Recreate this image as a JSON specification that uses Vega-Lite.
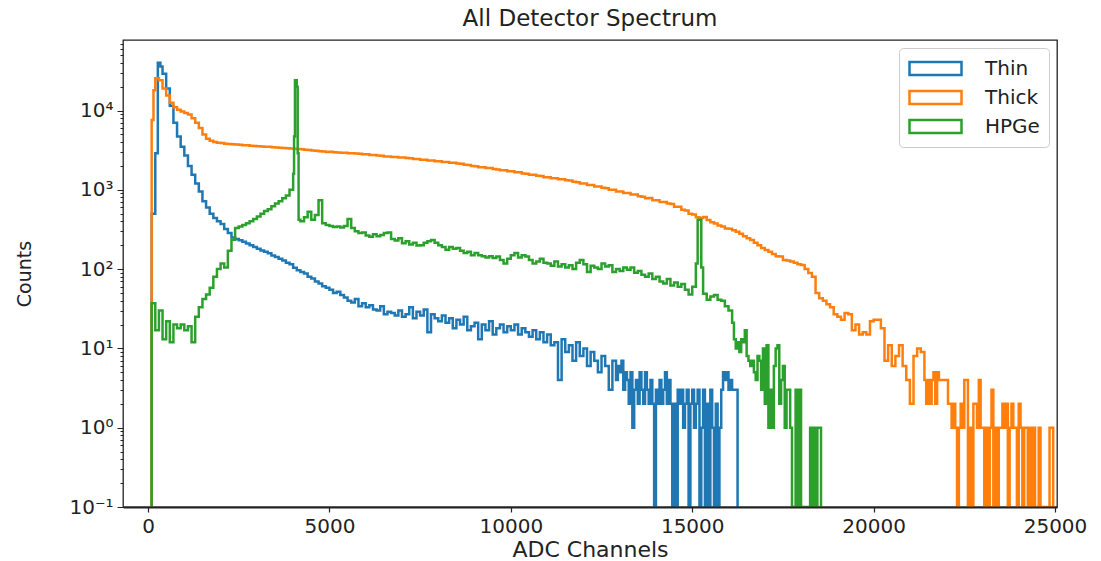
{
"$schema":"https://vega.github.io/schema/vega-lite/v6.json",
"width":934,"height":467,
"autosize":"none",
"padding":{"left":123,"top":40,"right":44,"bottom":54},
"title":{"text":"All Detector Spectrum","fontSize":23,"font":"DejaVu Sans","fontWeight":"normal","color":"#222222","offset":3},
"config":{"view":{"stroke":"#222222","strokeWidth":1.3},"font":"DejaVu Sans"},
"data":{"values":[
{"x":95,"Thin":0,"Thick":0,"HPGe":0},
{"x":100,"Thin":500,"Thick":7600,"HPGe":37},
{"x":150,"Thick":18000},
{"x":200,"Thin":2900,"Thick":25500,"HPGe":17},
{"x":270,"Thin":40000},
{"x":300,"Thick":24000,"HPGe":30},
{"x":340,"Thin":36000},
{"x":400,"Thin":29000,"Thick":19000,"HPGe":13},
{"x":500,"Thin":19000,"Thick":15500,"HPGe":22},
{"x":600,"Thin":11500,"Thick":12500,"HPGe":12},
{"x":700,"Thin":7000,"Thick":11000,"HPGe":20},
{"x":800,"Thin":4700,"Thick":10200,"HPGe":18},
{"x":900,"Thin":3500,"Thick":9700,"HPGe":20},
{"x":1000,"Thin":2700,"Thick":9300,"HPGe":17},
{"x":1100,"Thin":2000,"Thick":8900,"HPGe":19},
{"x":1200,"Thin":1550,"Thick":8000,"HPGe":12},
{"x":1300,"Thin":1200,"Thick":7000,"HPGe":25},
{"x":1400,"Thin":950,"Thick":6000,"HPGe":33},
{"x":1500,"Thin":720,"Thick":5000,"HPGe":42},
{"x":1600,"Thin":600,"Thick":4400,"HPGe":48},
{"x":1700,"Thin":500,"Thick":4150,"HPGe":58},
{"x":1800,"Thin":440,"Thick":4000,"HPGe":80},
{"x":1900,"Thin":400,"Thick":3920,"HPGe":100},
{"x":2000,"Thin":370,"Thick":3880,"HPGe":118},
{"x":2100,"Thin":320,"Thick":3820,"HPGe":105},
{"x":2200,"Thin":285,"Thick":3790,"HPGe":170},
{"x":2300,"Thin":250,"Thick":3760,"HPGe":235},
{"x":2400,"Thin":240,"Thick":3720,"HPGe":330},
{"x":2500,"Thin":232,"Thick":3700,"HPGe":345},
{"x":2600,"Thin":222,"Thick":3660,"HPGe":360},
{"x":2700,"Thin":210,"Thick":3640,"HPGe":380},
{"x":2800,"Thin":200,"Thick":3590,"HPGe":400},
{"x":2900,"Thin":190,"Thick":3570,"HPGe":430},
{"x":3000,"Thin":180,"Thick":3550,"HPGe":460},
{"x":3100,"Thin":172,"Thick":3530,"HPGe":500},
{"x":3200,"Thin":165,"Thick":3490,"HPGe":540},
{"x":3300,"Thin":158,"Thick":3480,"HPGe":570},
{"x":3400,"Thin":148,"Thick":3450,"HPGe":620},
{"x":3500,"Thin":142,"Thick":3420,"HPGe":670},
{"x":3600,"Thin":135,"Thick":3400,"HPGe":720},
{"x":3700,"Thin":128,"Thick":3360,"HPGe":780},
{"x":3800,"Thin":120,"Thick":3350,"HPGe":850},
{"x":3900,"Thin":115,"Thick":3310,"HPGe":1000},
{"x":4000,"Thin":104,"Thick":3290,"HPGe":1600},
{"x":4025,"HPGe":4700},
{"x":4050,"HPGe":24000},
{"x":4100,"Thin":97,"Thick":3260,"HPGe":20000},
{"x":4125,"HPGe":2900},
{"x":4150,"HPGe":420},
{"x":4200,"Thin":92,"Thick":3240,"HPGe":400},
{"x":4300,"Thin":88,"Thick":3190,"HPGe":450},
{"x":4400,"Thin":80,"Thick":3180,"HPGe":530},
{"x":4500,"Thin":76,"Thick":3130,"HPGe":420},
{"x":4600,"Thin":70,"Thick":3110,"HPGe":480},
{"x":4700,"Thin":66,"Thick":3060,"HPGe":740},
{"x":4800,"Thin":61,"Thick":3050,"HPGe":380},
{"x":4900,"Thin":58,"Thick":3000,"HPGe":360},
{"x":5000,"Thin":55,"Thick":3010,"HPGe":350},
{"x":5100,"Thin":50,"Thick":2970,"HPGe":340},
{"x":5200,"Thin":52,"Thick":2960,"HPGe":345},
{"x":5300,"Thin":47,"Thick":2930,"HPGe":335},
{"x":5400,"Thin":44,"Thick":2940,"HPGe":350},
{"x":5500,"Thin":40,"Thick":2890,"HPGe":430},
{"x":5600,"Thin":38,"Thick":2900,"HPGe":330},
{"x":5700,"Thin":42,"Thick":2870,"HPGe":300},
{"x":5800,"Thin":34,"Thick":2850,"HPGe":285},
{"x":5900,"Thin":37,"Thick":2810,"HPGe":290},
{"x":6000,"Thin":33,"Thick":2800,"HPGe":265},
{"x":6100,"Thin":35,"Thick":2750,"HPGe":255},
{"x":6200,"Thin":31,"Thick":2750,"HPGe":275},
{"x":6300,"Thin":30,"Thick":2700,"HPGe":260},
{"x":6400,"Thin":34,"Thick":2690,"HPGe":270},
{"x":6500,"Thin":27,"Thick":2640,"HPGe":285},
{"x":6600,"Thin":29,"Thick":2640,"HPGe":290},
{"x":6700,"Thin":28,"Thick":2600,"HPGe":240},
{"x":6800,"Thin":26,"Thick":2600,"HPGe":230},
{"x":6900,"Thin":30,"Thick":2550,"HPGe":245},
{"x":7000,"Thin":25,"Thick":2550,"HPGe":212},
{"x":7100,"Thin":27,"Thick":2510,"HPGe":225},
{"x":7200,"Thin":33,"Thick":2500,"HPGe":205},
{"x":7300,"Thin":24,"Thick":2450,"HPGe":215},
{"x":7400,"Thin":29,"Thick":2440,"HPGe":198},
{"x":7500,"Thin":26,"Thick":2390,"HPGe":200},
{"x":7600,"Thin":31,"Thick":2400,"HPGe":215},
{"x":7700,"Thin":16,"Thick":2350,"HPGe":225},
{"x":7800,"Thin":27,"Thick":2340,"HPGe":233},
{"x":7900,"Thin":24,"Thick":2290,"HPGe":215},
{"x":8000,"Thin":22,"Thick":2290,"HPGe":200},
{"x":8100,"Thin":26,"Thick":2240,"HPGe":190},
{"x":8200,"Thin":21,"Thick":2240,"HPGe":175},
{"x":8300,"Thin":24,"Thick":2190,"HPGe":190},
{"x":8400,"Thin":18,"Thick":2190,"HPGe":180},
{"x":8500,"Thin":23,"Thick":2150,"HPGe":185},
{"x":8600,"Thin":20,"Thick":2130,"HPGe":170},
{"x":8700,"Thin":25,"Thick":2070,"HPGe":160},
{"x":8800,"Thin":17,"Thick":2050,"HPGe":165},
{"x":8900,"Thin":19,"Thick":1990,"HPGe":150},
{"x":9000,"Thin":21,"Thick":1980,"HPGe":160},
{"x":9100,"Thin":13,"Thick":1930,"HPGe":150},
{"x":9200,"Thin":20,"Thick":1920,"HPGe":145},
{"x":9300,"Thin":17,"Thick":1880,"HPGe":140},
{"x":9400,"Thin":22,"Thick":1880,"HPGe":145},
{"x":9500,"Thin":15,"Thick":1830,"HPGe":138},
{"x":9600,"Thin":18,"Thick":1810,"HPGe":144},
{"x":9700,"Thin":20,"Thick":1770,"HPGe":130},
{"x":9800,"Thin":16,"Thick":1760,"HPGe":118},
{"x":9900,"Thin":19,"Thick":1720,"HPGe":135},
{"x":10000,"Thin":17,"Thick":1710,"HPGe":150},
{"x":10100,"Thin":20,"Thick":1670,"HPGe":160},
{"x":10200,"Thin":15,"Thick":1660,"HPGe":140},
{"x":10300,"Thin":18,"Thick":1610,"HPGe":150},
{"x":10400,"Thin":16,"Thick":1600,"HPGe":144},
{"x":10500,"Thin":14,"Thick":1550,"HPGe":130},
{"x":10600,"Thin":17,"Thick":1550,"HPGe":118},
{"x":10700,"Thin":13,"Thick":1500,"HPGe":125},
{"x":10800,"Thin":16,"Thick":1490,"HPGe":135},
{"x":10900,"Thin":12,"Thick":1440,"HPGe":120},
{"x":11000,"Thin":15,"Thick":1440,"HPGe":118},
{"x":11100,"Thin":11,"Thick":1400,"HPGe":110},
{"x":11200,"Thin":12,"Thick":1400,"HPGe":125},
{"x":11300,"Thin":4,"Thick":1360,"HPGe":108},
{"x":11400,"Thin":13,"Thick":1360,"HPGe":115},
{"x":11500,"Thin":9,"Thick":1320,"HPGe":105},
{"x":11600,"Thin":11,"Thick":1310,"HPGe":112},
{"x":11700,"Thin":7,"Thick":1260,"HPGe":100},
{"x":11800,"Thin":12,"Thick":1250,"HPGe":120},
{"x":11900,"Thin":8,"Thick":1200,"HPGe":130},
{"x":12000,"Thin":10,"Thick":1200,"HPGe":115},
{"x":12100,"Thin":6,"Thick":1150,"HPGe":92},
{"x":12200,"Thin":9,"Thick":1150,"HPGe":110},
{"x":12300,"Thin":7,"Thick":1100,"HPGe":105},
{"x":12400,"Thin":5,"Thick":1100,"HPGe":100},
{"x":12500,"Thin":8,"Thick":1060,"HPGe":118},
{"x":12600,"Thin":6,"Thick":1050,"HPGe":108},
{"x":12700,"Thin":3,"Thick":1000,"HPGe":112},
{"x":12800,"Thin":7,"Thick":1000,"HPGe":92},
{"x":12900,"Thin":4,"Thick":950,"HPGe":100},
{"x":12950,"Thin":6},
{"x":13000,"Thin":5,"Thick":950,"HPGe":95},
{"x":13050,"Thin":7},
{"x":13100,"Thin":3,"Thick":910,"HPGe":105},
{"x":13150,"Thin":5},
{"x":13200,"Thin":4,"Thick":910,"HPGe":98},
{"x":13250,"Thin":2},
{"x":13300,"Thin":5,"Thick":870,"HPGe":105},
{"x":13350,"Thin":1},
{"x":13400,"Thin":3,"Thick":870,"HPGe":90},
{"x":13450,"Thin":4},
{"x":13500,"Thin":2,"Thick":830,"HPGe":95},
{"x":13550,"Thin":5},
{"x":13600,"Thin":3,"Thick":820,"HPGe":85},
{"x":13650,"Thin":2},
{"x":13700,"Thin":5,"Thick":780,"HPGe":80},
{"x":13750,"Thin":3},
{"x":13800,"Thin":2,"Thick":790,"HPGe":88},
{"x":13850,"Thin":4},
{"x":13900,"Thin":2,"Thick":740,"HPGe":75},
{"x":13950,"Thin":0},
{"x":14000,"Thin":3,"Thick":740,"HPGe":80},
{"x":14050,"Thin":2},
{"x":14100,"Thin":4,"Thick":700,"HPGe":70},
{"x":14150,"Thin":2},
{"x":14200,"Thin":3,"Thick":700,"HPGe":66},
{"x":14250,"Thin":5},
{"x":14300,"Thin":2,"Thick":670,"HPGe":75},
{"x":14350,"Thin":4},
{"x":14400,"Thin":2,"Thick":660,"HPGe":62},
{"x":14450,"Thin":0},
{"x":14500,"Thin":2,"Thick":610,"HPGe":68},
{"x":14550,"Thin":0},
{"x":14600,"Thin":3,"Thick":610,"HPGe":60},
{"x":14650,"Thin":2},
{"x":14700,"Thin":3,"Thick":560,"HPGe":65},
{"x":14750,"Thin":1},
{"x":14800,"Thin":2,"Thick":550,"HPGe":55},
{"x":14850,"Thin":3},
{"x":14900,"Thin":0,"Thick":500,"HPGe":48},
{"x":14950,"Thin":2},
{"x":15000,"Thin":3,"Thick":490,"HPGe":60},
{"x":15050,"Thin":1},
{"x":15100,"Thin":2,"Thick":450,"HPGe":118},
{"x":15150,"Thin":3,"HPGe":420},
{"x":15200,"Thin":0,"Thick":440},
{"x":15250,"Thin":1,"HPGe":105},
{"x":15300,"Thin":3,"Thick":455,"HPGe":49},
{"x":15350,"Thin":0},
{"x":15400,"Thin":2,"Thick":415,"HPGe":41},
{"x":15450,"Thin":0},
{"x":15500,"Thin":3,"Thick":390,"HPGe":45},
{"x":15550,"Thin":1},
{"x":15600,"Thin":0,"Thick":375,"HPGe":47},
{"x":15650,"Thin":2},
{"x":15700,"Thin":0,"Thick":355,"HPGe":41},
{"x":15750,"Thin":1},
{"x":15800,"Thin":3,"Thick":345,"HPGe":40},
{"x":15850,"Thin":5},
{"x":15900,"Thin":4,"Thick":325,"HPGe":34},
{"x":15950,"Thin":5},
{"x":16000,"Thin":3,"Thick":322,"HPGe":30},
{"x":16050,"Thin":4},
{"x":16100,"Thin":3,"Thick":310,"HPGe":21},
{"x":16150,"Thin":3,"HPGe":13},
{"x":16200,"Thin":3,"Thick":295,"HPGe":10},
{"x":16250,"Thin":0,"HPGe":12},
{"x":16300,"Thick":280,"HPGe":9},
{"x":16350,"HPGe":13},
{"x":16400,"Thick":260,"HPGe":12},
{"x":16450,"HPGe":17},
{"x":16500,"Thick":245,"HPGe":8},
{"x":16550,"HPGe":7},
{"x":16600,"Thick":233,"HPGe":6},
{"x":16650,"HPGe":7},
{"x":16700,"Thick":215,"HPGe":5},
{"x":16750,"HPGe":4},
{"x":16800,"Thick":200,"HPGe":8},
{"x":16850,"HPGe":7},
{"x":16900,"Thick":185,"HPGe":3},
{"x":16950,"HPGe":10},
{"x":17000,"Thick":174,"HPGe":2},
{"x":17050,"HPGe":11},
{"x":17100,"Thick":165,"HPGe":1},
{"x":17150,"HPGe":3},
{"x":17200,"Thick":155,"HPGe":1},
{"x":17250,"HPGe":6},
{"x":17300,"Thick":145,"HPGe":10},
{"x":17350,"HPGe":11},
{"x":17400,"Thick":144,"HPGe":2},
{"x":17450,"HPGe":4},
{"x":17500,"Thick":130,"HPGe":6},
{"x":17550,"HPGe":1},
{"x":17600,"Thick":128,"HPGe":3},
{"x":17650,"HPGe":3},
{"x":17700,"Thick":125,"HPGe":1},
{"x":17750,"HPGe":0},
{"x":17800,"Thick":120},
{"x":17850,"HPGe":3},
{"x":17900,"Thick":115,"HPGe":0},
{"x":17950,"HPGe":3},
{"x":18000,"Thick":113,"HPGe":0},
{"x":18100,"Thick":100},
{"x":18200,"Thick":89},
{"x":18250,"HPGe":1},
{"x":18300,"Thick":80,"HPGe":0},
{"x":18350,"HPGe":1},
{"x":18400,"Thick":50,"HPGe":0},
{"x":18450,"HPGe":1},
{"x":18500,"Thick":43},
{"x":18550,"HPGe":0},
{"x":18600,"Thick":40},
{"x":18700,"Thick":36},
{"x":18800,"Thick":33},
{"x":18900,"Thick":27},
{"x":19000,"Thick":25},
{"x":19100,"Thick":23},
{"x":19200,"Thick":28},
{"x":19300,"Thick":27},
{"x":19400,"Thick":17},
{"x":19500,"Thick":20},
{"x":19600,"Thick":15},
{"x":19700,"Thick":16},
{"x":19800,"Thick":15},
{"x":19900,"Thick":22},
{"x":20000,"Thick":23},
{"x":20100,"Thick":23},
{"x":20200,"Thick":18},
{"x":20300,"Thick":7},
{"x":20400,"Thick":11},
{"x":20500,"Thick":6},
{"x":20600,"Thick":8},
{"x":20700,"Thick":11},
{"x":20800,"Thick":6},
{"x":20900,"Thick":4},
{"x":21000,"Thick":2},
{"x":21100,"Thick":8},
{"x":21200,"Thick":10},
{"x":21300,"Thick":9},
{"x":21400,"Thick":4},
{"x":21450,"Thick":2},
{"x":21500,"Thick":4},
{"x":21550,"Thick":2},
{"x":21600,"Thick":4},
{"x":21650,"Thick":5},
{"x":21700,"Thick":2},
{"x":21750,"Thick":5},
{"x":21800,"Thick":4},
{"x":22050,"Thick":2},
{"x":22150,"Thick":1},
{"x":22200,"Thick":2},
{"x":22250,"Thick":1},
{"x":22300,"Thick":0},
{"x":22350,"Thick":1},
{"x":22400,"Thick":2},
{"x":22450,"Thick":1},
{"x":22500,"Thick":4},
{"x":22600,"Thick":0},
{"x":22650,"Thick":1},
{"x":22700,"Thick":0},
{"x":22750,"Thick":2},
{"x":22850,"Thick":1},
{"x":22900,"Thick":4},
{"x":22950,"Thick":1},
{"x":23050,"Thick":0},
{"x":23100,"Thick":1},
{"x":23150,"Thick":0},
{"x":23200,"Thick":1},
{"x":23250,"Thick":3},
{"x":23300,"Thick":0},
{"x":23350,"Thick":1},
{"x":23400,"Thick":0},
{"x":23450,"Thick":1},
{"x":23550,"Thick":2},
{"x":23600,"Thick":1},
{"x":23650,"Thick":2},
{"x":23700,"Thick":0},
{"x":23750,"Thick":1},
{"x":23800,"Thick":2},
{"x":23850,"Thick":1},
{"x":23950,"Thick":0},
{"x":24000,"Thick":2},
{"x":24050,"Thick":1},
{"x":24100,"Thick":0},
{"x":24150,"Thick":1},
{"x":24250,"Thick":0},
{"x":24300,"Thick":1},
{"x":24350,"Thick":0},
{"x":24400,"Thick":1},
{"x":24450,"Thick":0},
{"x":24550,"Thick":1},
{"x":24600,"Thick":0},
{"x":24850,"Thick":1},
{"x":24950,"Thick":0}
]},
"transform":[{"fold":["Thin","Thick","HPGe"],"as":["series","counts"]},{"filter":"isValid(datum.counts)"}],
"encoding":{
"x":{"field":"x","type":"quantitative","scale":{"domain":[-690,25055],"nice":false,"zero":false},
"axis":{"values":[0,5000,10000,15000,20000,25000],"format":"d","title":"ADC Channels","titleFontSize":22,"titleFontWeight":"normal","titleColor":"#222222","titlePadding":3,"labelFontSize":20,"labelColor":"#222222","labelPadding":4,"tickColor":"#222222","tickSize":5,"tickWidth":1.2,"grid":false,"domain":true,"domainColor":"#222222","domainWidth":2,"zindex":1,"labelFlush":false}},
"y":{"field":"counts","type":"quantitative","scale":{"type":"log","domain":[0.1,77500],"clamp":true,"nice":false},
"axis":{"values":[0.1,0.2,0.3,0.4,0.5,0.6,0.7,0.8,0.9,1,2,3,4,5,6,7,8,9,10,20,30,40,50,60,70,80,90,100,200,300,400,500,600,700,800,900,1000,2000,3000,4000,5000,6000,7000,8000,9000,10000,20000,30000,40000,50000,60000,70000],
"labelExpr":"datum.value == 0.1 ? '10⁻¹' : datum.value == 1 ? '10⁰' : datum.value == 10 ? '10¹' : datum.value == 100 ? '10²' : datum.value == 1000 ? '10³' : datum.value == 10000 ? '10⁴' : ''",
"labelOverlap":false,"labelFontSize":20,"labelColor":"#222222","labelPadding":4,"tickColor":"#222222","tickWidth":1,
"tickSize":{"condition":{"test":"indexof([0.1,1,10,100,1000,10000], datum.value) >= 0","value":6},"value":3},
"title":"Counts","titleFontSize":19,"titleFontWeight":"normal","titleColor":"#222222","titlePadding":34,"grid":false,"domain":false,"zindex":1}},
"color":{"field":"series","type":"nominal","scale":{"domain":["Thin","Thick","HPGe"],"range":["#1f77b4","#ff7f0e","#2ca02c"]},
"legend":{"title":null,"orient":"top-right","offset":8,"padding":9,"strokeColor":"#cccccc","fillColor":"white","cornerRadius":4,"labelFontSize":20,"labelColor":"#222222","symbolType":"M-1,-0.65H4.2V0.65H-1Z","symbolSize":400,"symbolStrokeWidth":2.5,"symbolFillColor":"transparent","labelOffset":54,"rowPadding":6}}
},
"layer":[
{"transform":[{"filter":"datum.series == 'Thin'"}],"mark":{"type":"line","interpolate":"step-after","strokeWidth":2.5,"invalid":"show","clip":true}},
{"transform":[{"filter":"datum.series == 'Thick'"}],"mark":{"type":"line","interpolate":"step-after","strokeWidth":2.5,"invalid":"show","clip":true}},
{"transform":[{"filter":"datum.series == 'HPGe'"}],"mark":{"type":"line","interpolate":"step-after","strokeWidth":2.5,"invalid":"show","clip":true}}
]
}
